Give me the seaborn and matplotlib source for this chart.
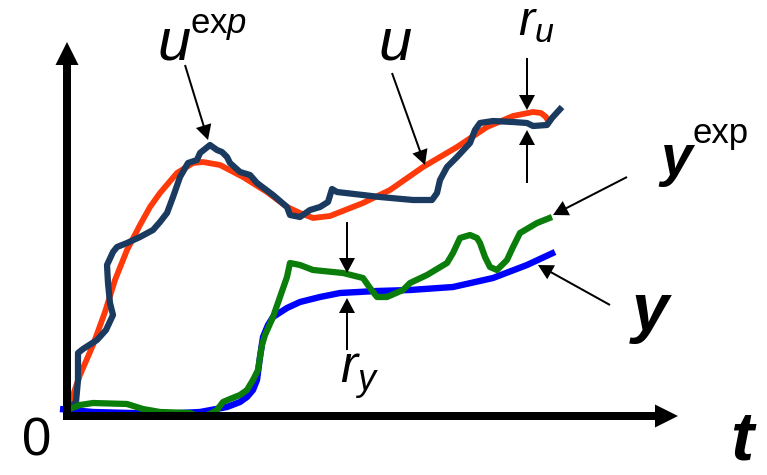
import matplotlib
matplotlib.use("Agg")
import matplotlib.pyplot as plt
import seaborn as sns
import numpy as np

sns.set_style("white")
plt.rcParams["font.family"] = ["Liberation Sans", "DejaVu Sans"]
plt.rcParams["text.color"] = "black"
plt.rcParams["mathtext.fontset"] = "custom"
plt.rcParams["mathtext.rm"] = "Liberation Sans"
plt.rcParams["mathtext.it"] = "Liberation Sans:italic"
plt.rcParams["mathtext.bf"] = "Liberation Sans:bold:italic"

# control input u (model) and measured input u^exp
t_u = [0, 13, 26, 38, 48, 60, 73, 83, 93, 110, 126, 136, 153, 176, 200, 220, 233,
       246, 263, 296, 323, 356, 390, 420, 446, 466, 474, 479, 481]
u_model = [4, 41, 71, 104, 136, 166, 191, 209, 223, 243, 253, 254, 251, 239, 224, 209,
           203, 198, 200, 213, 226, 249, 269, 289, 300, 304, 303, 299, 295]

t_uexp = [0, 5, 9, 11, 11, 16, 30, 39, 46, 43, 41, 40, 46, 50, 60, 73, 86, 93, 100, 106,
          113, 121, 130, 133, 143, 150, 155, 160, 163, 173, 183, 190, 206, 220, 223, 233,
          243, 253, 261, 265, 270, 313, 346, 365, 370, 373, 380, 390, 403, 408, 413, 426,
          446, 460, 466, 480, 485, 495]
u_exp = [6, 10, 14, 36, 63, 67, 76, 86, 101, 113, 133, 151, 164, 169, 173, 179, 186, 194,
         203, 219, 239, 253, 256, 263, 271, 266, 264, 259, 253, 244, 241, 233, 221, 209,
         201, 199, 206, 209, 214, 227, 224, 219, 216, 216, 223, 236, 249, 259, 273, 286,
         293, 295, 294, 293, 290, 291, 298, 309]

# output y (model) and measured output y^exp
t_y = [-7, 26, 63, 93, 133, 160, 173, 180, 186, 190, 193, 196, 201, 206, 220, 233, 253,
       273, 310, 343, 386, 426, 460, 488]
y_model = [7, 4, 3, 2, 4, 9, 14, 19, 26, 36, 59, 79, 91, 99, 108, 114, 119, 123, 125,
           126, 129, 138, 151, 164]

t_yexp = [0, 13, 26, 60, 76, 93, 123, 133, 143, 150, 156, 163, 173, 180, 186, 191, 193,
          195, 198, 206, 213, 220, 223, 233, 246, 276, 296, 303, 310, 320, 336, 343, 360,
          380, 386, 393, 403, 410, 413, 418, 423, 430, 440, 446, 453, 470, 485]
y_exp = [6, 11, 13, 12, 7, 4, 3, -1, 2, 6, 14, 17, 21, 26, 36, 46, 59, 71, 81, 99, 119,
         139, 153, 151, 146, 143, 138, 128, 119, 119, 126, 133, 141, 153, 163, 178, 181,
         178, 173, 159, 149, 146, 156, 169, 183, 193, 199]

fig = plt.figure(figsize=(7.67, 4.75), dpi=100)
ax = fig.add_axes([0, 0, 1, 1])

line_kw = dict(sort=False, estimator=None, ax=ax, legend=False)
sns.lineplot(x=t_u, y=u_model, color="#ff3a0a", lw=4.2, zorder=2, **line_kw)
sns.lineplot(x=t_uexp, y=u_exp, color="#1b3a5f", lw=4.5, zorder=3, **line_kw)
sns.lineplot(x=t_y, y=y_model, color="#0000ff", lw=4.6, zorder=2, **line_kw)
sns.lineplot(x=t_yexp, y=y_exp, color="#0a7d0a", lw=4.5, zorder=3, **line_kw)
for ln in ax.lines:
    ln.set_solid_capstyle("butt")
    ln.set_solid_joinstyle("round")

ax.set_xlim(-67, 700)
ax.set_ylim(-59, 416)
ax.set_axis_off()

# coordinate axes
ax.arrow(0, -4, 0, 378, width=8, head_width=23, head_length=23,
         length_includes_head=True, fc="black", ec="none", zorder=4)
ax.arrow(-4, 0, 615, 0, width=8, head_width=23, head_length=23,
         length_includes_head=True, fc="black", ec="none", zorder=4)

def pointer(x0, y0, x1, y1):
    ax.arrow(x0, y0, x1 - x0, y1 - y0, width=2, head_width=16, head_length=15,
             length_includes_head=True, fc="black", ec="none", zorder=5)

pointer(118, 351, 141, 276)   # u^exp
pointer(325, 343, 358, 251)   # u
pointer(460, 358, 460, 306)   # r_u upper
pointer(460, 233, 460, 286)   # r_u lower
pointer(560, 239, 486, 201)   # y^exp
pointer(543, 111, 471, 151)   # y
pointer(280, 194, 280, 143)   # r_y upper
pointer(280, 66, 280, 118)    # r_y lower

# labels
ax.text(-45, -40, "0", fontsize=38, ha="left", va="baseline")
ax.text(675, -58, "t", fontsize=50, fontweight="bold", fontstyle="italic",
        ha="center", va="bottom")
ax.text(90, 356, "u", fontsize=43, fontstyle="italic", ha="left", va="baseline")
ax.text(123, 383, r"$\mathrm{ex}p$", fontsize=25, ha="left", va="baseline")
ax.text(311, 356, "u", fontsize=43, fontstyle="italic", ha="left", va="baseline")
ax.text(451, 381, r"$r_u$", fontsize=35, ha="left", va="baseline")
ax.text(273, 33, r"$r_y$", fontsize=37, ha="left", va="baseline")
ax.text(593, 241, "y", fontsize=41, fontweight="bold", fontstyle="italic",
        ha="left", va="baseline")
ax.text(625, 273, "exp", fontsize=25, ha="left", va="baseline")
ax.text(565, 86, "y", fontsize=48, fontweight="bold", fontstyle="italic",
        ha="left", va="baseline")

fig.savefig("out.png", dpi=100)
